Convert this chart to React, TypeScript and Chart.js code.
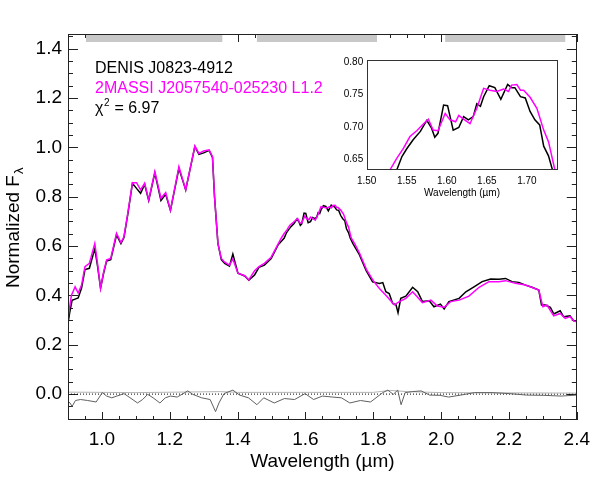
import React, { useEffect, useRef } from "react";
import { Chart, registerables } from "chart.js";
Chart.register(...registerables);

const FONT = "'Liberation Sans', Helvetica, Arial, sans-serif";

// DENIS J0823-4912 (black)
const denisWave = [0.900, 0.905, 0.912, 0.921, 0.930, 0.940, 0.950, 0.963, 0.979, 0.987, 0.996, 1.005, 1.014, 1.026, 1.043, 1.056, 1.065, 1.077, 1.090, 1.102, 1.114, 1.126, 1.138, 1.156, 1.174, 1.188, 1.202, 1.227, 1.247, 1.274, 1.286, 1.300, 1.316, 1.326, 1.332, 1.342, 1.352, 1.362, 1.376, 1.386, 1.401, 1.421, 1.433, 1.450, 1.463, 1.479, 1.499, 1.519, 1.5375, 1.544, 1.550, 1.558, 1.567, 1.575, 1.581, 1.585, 1.589, 1.596, 1.601, 1.608, 1.615, 1.621, 1.627, 1.633, 1.6375, 1.642, 1.646, 1.653, 1.660, 1.6675, 1.676, 1.681, 1.685, 1.692, 1.698, 1.704, 1.710, 1.716, 1.721, 1.727, 1.732, 1.740, 1.759, 1.779, 1.798, 1.818, 1.828, 1.837, 1.847, 1.857, 1.867, 1.873, 1.881, 1.896, 1.916, 1.931, 1.945, 1.965, 1.979, 1.998, 2.009, 2.023, 2.053, 2.073, 2.097, 2.121, 2.146, 2.170, 2.190, 2.209, 2.229, 2.249, 2.268, 2.288, 2.296, 2.307, 2.322, 2.332, 2.351, 2.361, 2.380, 2.391, 2.400];
const denisFlux = [0.287, 0.330, 0.380, 0.385, 0.390, 0.430, 0.505, 0.510, 0.590, 0.520, 0.430, 0.490, 0.540, 0.545, 0.645, 0.610, 0.635, 0.735, 0.855, 0.834, 0.814, 0.850, 0.785, 0.897, 0.785, 0.810, 0.745, 0.915, 0.828, 1.003, 0.972, 0.978, 0.988, 0.960, 0.800, 0.611, 0.545, 0.530, 0.519, 0.568, 0.490, 0.479, 0.462, 0.483, 0.514, 0.523, 0.550, 0.604, 0.633, 0.654, 0.666, 0.680, 0.693, 0.710, 0.698, 0.684, 0.690, 0.734, 0.733, 0.695, 0.699, 0.716, 0.711, 0.716, 0.736, 0.732, 0.747, 0.764, 0.761, 0.743, 0.766, 0.761, 0.761, 0.747, 0.745, 0.724, 0.711, 0.703, 0.670, 0.655, 0.633, 0.610, 0.565, 0.500, 0.455, 0.449, 0.452, 0.415, 0.408, 0.368, 0.362, 0.330, 0.388, 0.397, 0.433, 0.415, 0.375, 0.378, 0.354, 0.365, 0.345, 0.375, 0.388, 0.415, 0.435, 0.456, 0.467, 0.466, 0.469, 0.456, 0.453, 0.442, 0.433, 0.422, 0.361, 0.361, 0.352, 0.325, 0.338, 0.314, 0.317, 0.297, 0.297];

// 2MASSI J2057540-025230 L1.2 template (magenta)
const tmplWave = [0.900, 0.910, 0.921, 0.930, 0.940, 0.950, 0.963, 0.979, 0.987, 0.996, 1.005, 1.014, 1.026, 1.043, 1.056, 1.065, 1.077, 1.090, 1.102, 1.114, 1.126, 1.138, 1.156, 1.174, 1.188, 1.202, 1.227, 1.247, 1.274, 1.286, 1.300, 1.316, 1.326, 1.332, 1.342, 1.352, 1.362, 1.376, 1.386, 1.401, 1.421, 1.433, 1.450, 1.463, 1.479, 1.499, 1.520, 1.529, 1.5375, 1.546, 1.554, 1.5625, 1.571, 1.577, 1.583, 1.589, 1.598, 1.604, 1.611, 1.615, 1.621, 1.629, 1.6375, 1.646, 1.654, 1.6625, 1.671, 1.677, 1.681, 1.6875, 1.692, 1.696, 1.704, 1.7125, 1.721, 1.727, 1.735, 1.745, 1.760, 1.780, 1.800, 1.818, 1.837, 1.862, 1.877, 1.896, 1.916, 1.945, 1.970, 1.989, 2.009, 2.028, 2.053, 2.082, 2.112, 2.141, 2.170, 2.190, 2.219, 2.249, 2.288, 2.300, 2.312, 2.332, 2.351, 2.366, 2.380, 2.391, 2.400];
const tmplFlux = [0.307, 0.400, 0.435, 0.410, 0.442, 0.517, 0.530, 0.611, 0.530, 0.429, 0.495, 0.544, 0.550, 0.652, 0.614, 0.638, 0.740, 0.857, 0.857, 0.828, 0.855, 0.787, 0.902, 0.794, 0.817, 0.746, 0.922, 0.828, 1.006, 0.976, 0.986, 0.990, 0.963, 0.800, 0.611, 0.550, 0.535, 0.523, 0.548, 0.490, 0.480, 0.463, 0.500, 0.517, 0.530, 0.555, 0.610, 0.633, 0.651, 0.667, 0.685, 0.694, 0.705, 0.712, 0.695, 0.694, 0.721, 0.711, 0.708, 0.718, 0.712, 0.705, 0.729, 0.760, 0.757, 0.755, 0.759, 0.755, 0.765, 0.766, 0.757, 0.757, 0.746, 0.729, 0.695, 0.677, 0.633, 0.610, 0.570, 0.505, 0.460, 0.428, 0.401, 0.362, 0.375, 0.388, 0.415, 0.371, 0.381, 0.357, 0.352, 0.375, 0.381, 0.397, 0.433, 0.456, 0.456, 0.460, 0.449, 0.442, 0.422, 0.354, 0.361, 0.317, 0.327, 0.307, 0.314, 0.297, 0.293];

// residual (dark grey)
const residWave = [0.900, 0.906, 0.912, 0.922, 0.937, 0.958, 0.983, 1.001, 1.014, 1.029, 1.044, 1.065, 1.080, 1.105, 1.120, 1.135, 1.151, 1.171, 1.187, 1.202, 1.222, 1.253, 1.268, 1.294, 1.319, 1.335, 1.345, 1.360, 1.386, 1.406, 1.432, 1.457, 1.477, 1.508, 1.538, 1.568, 1.599, 1.624, 1.650, 1.680, 1.706, 1.731, 1.762, 1.792, 1.828, 1.843, 1.859, 1.872, 1.882, 1.894, 1.915, 1.941, 1.966, 1.997, 2.022, 2.058, 2.099, 2.150, 2.201, 2.252, 2.303, 2.354, 2.400];
const residFlux = [-0.030, -0.036, -0.050, -0.026, -0.022, -0.026, -0.032, 0.006, -0.008, -0.015, -0.008, 0.002, -0.012, -0.036, -0.022, -0.001, -0.015, -0.036, -0.015, -0.008, -0.012, 0.013, -0.001, -0.015, -0.022, -0.071, -0.036, 0.002, 0.016, -0.004, -0.015, -0.043, -0.015, -0.036, -0.018, -0.022, 0.002, -0.022, -0.008, -0.012, -0.015, -0.036, -0.026, -0.032, 0.006, 0.016, -0.001, 0.016, -0.043, 0.006, 0.010, 0.013, -0.004, -0.005, -0.012, -0.004, 0.006, 0.006, 0.002, -0.004, -0.005, -0.008, -0.004];

// noise (light grey)
const noiseWave = [0.900, 1.100, 1.350, 1.400, 1.800, 1.850, 1.900, 2.000, 2.400];
const noiseFlux = [0.008, 0.006, 0.010, 0.007, 0.007, 0.015, 0.010, 0.006, 0.004];

// grey telluric bands at top
const bandStart = [0.953, 1.457, 2.012];
const bandEnd = [1.355, 1.811, 2.366];
const bandLevel = 1.444;

const xTicks = [1.0, 1.2, 1.4, 1.6, 1.8, 2.0, 2.2, 2.4];
const yTicks = [0.0, 0.2, 0.4, 0.6, 0.8, 1.0, 1.2, 1.4];
const insetXTicks = [1.5, 1.55, 1.6, 1.65, 1.7];
const insetYTicks = [0.65, 0.7, 0.75, 0.8];

const X_MIN = 0.9, X_MAX = 2.4, Y_MIN = -0.105, Y_MAX = 1.46;
const IX_MIN = 1.5, IX_MAX = 1.738, IY_MIN = 0.633, IY_MAX = 0.804;

const pts = (w: number[], f: number[]) => w.map((x, i) => ({ x, y: f[i] }));

function frameAndTicks(chart: any, phase: string) {
  const { ctx, chartArea: a, scales } = chart;
  const xs = scales.x, ys = scales.y;
  ctx.save();
  ctx.strokeStyle = "#222";
  ctx.lineWidth = 1;
  if (phase === "ticks") {
    ctx.beginPath();
    const xMinor: number[] = [];
    for (let v = 0.9; v <= 2.4001; v += 0.05) xMinor.push(+v.toFixed(2));
    xMinor.forEach((v) => {
      const major = xTicks.some((t) => Math.abs(t - v) < 1e-6);
      const L = major ? 8 : 4;
      const px = Math.round(xs.getPixelForValue(v)) + 0.5;
      ctx.moveTo(px, a.bottom); ctx.lineTo(px, a.bottom - L);
      ctx.moveTo(px, a.top); ctx.lineTo(px, a.top + L);
    });
    const yMinor: number[] = [];
    for (let v = -0.1; v <= 1.4501; v += 0.05) yMinor.push(+v.toFixed(2));
    yMinor.forEach((v) => {
      const major = yTicks.some((t) => Math.abs(t - v) < 1e-6);
      const L = major ? 10 : 5;
      const py = Math.round(ys.getPixelForValue(v)) + 0.5;
      ctx.moveTo(a.left, py); ctx.lineTo(a.left + L, py);
      ctx.moveTo(a.right, py); ctx.lineTo(a.right - L, py);
    });
    ctx.stroke();
  } else {
    ctx.strokeRect(Math.round(a.left) + 0.5, Math.round(a.top) + 0.5, Math.round(a.right - a.left) - 1, Math.round(a.bottom - a.top) - 1);
  }
  ctx.restore();
}

const mainPlugin = {
  id: "mainDecor",
  beforeDatasetsDraw(chart: any) { frameAndTicks(chart, "ticks"); },
  afterDatasetsDraw(chart: any) { frameAndTicks(chart, "frame"); },
  afterDraw(chart: any) {
    const { ctx, chartArea: a } = chart;
    ctx.save();
    ctx.textBaseline = "alphabetic";
    ctx.textAlign = "left";
    // legend text
    ctx.font = `16px ${FONT}`;
    ctx.fillStyle = "#000";
    ctx.fillText("DENIS J0823-4912", 95, 72.5);
    ctx.fillStyle = "#ff00ff";
    ctx.fillText("2MASSI J2057540-025230 L1.2", 95, 92.7);
    ctx.fillStyle = "#000";
    ctx.fillText("χ", 95, 112.7);
    const wChi = ctx.measureText("χ").width;
    ctx.font = `10px ${FONT}`;
    ctx.fillText("2", 95 + wChi + 0.5, 106);
    const w2 = ctx.measureText("2").width;
    ctx.font = `16px ${FONT}`;
    ctx.fillText(" = 6.97", 95 + wChi + w2 + 1, 112.7);
    // x title
    ctx.font = `19px ${FONT}`;
    ctx.textAlign = "center";
    ctx.fillText("Wavelength (µm)", (a.left + a.right) / 2, 467);
    // y title
    ctx.translate(18.5, 288);
    ctx.rotate(-Math.PI / 2);
    ctx.textAlign = "left";
    ctx.fillText("Normalized F", 0, 0);
    const wf = ctx.measureText("Normalized F").width;
    ctx.font = `13px ${FONT}`;
    ctx.fillText("λ", wf + 1, 4);
    ctx.restore();
  },
};

const insetPlugin = {
  id: "insetDecor",
  beforeDatasetsDraw(chart: any) {
    const { ctx, chartArea: a } = chart;
    ctx.save();
    ctx.fillStyle = "#fff";
    ctx.fillRect(a.left, a.top, a.right - a.left, a.bottom - a.top);
    ctx.restore();
  },
  afterDatasetsDraw(chart: any) {
    const { ctx, chartArea: a } = chart;
    ctx.save();
    ctx.strokeStyle = "#333";
    ctx.lineWidth = 1;
    ctx.strokeRect(Math.round(a.left) + 0.5, Math.round(a.top) + 0.5, Math.round(a.right - a.left) - 1, Math.round(a.bottom - a.top) - 1);
    ctx.fillStyle = "#000";
    ctx.font = `10px ${FONT}`;
    ctx.textAlign = "center";
    ctx.textBaseline = "alphabetic";
    ctx.fillText("Wavelength (µm)", (a.left + a.right) / 2, 145.5);
    ctx.restore();
  },
};

export default function App() {
  const mainRef = useRef<HTMLCanvasElement>(null);
  const insetRef = useRef<HTMLCanvasElement>(null);

  useEffect(() => {
    const lineDs = (label: string, data: any[], color: string, width: number, extra: any = {}) => ({
      label, data, borderColor: color, borderWidth: width, pointRadius: 0, tension: 0, fill: false, ...extra,
    });
    const bandSets = bandStart.map((s, i) =>
      lineDs("band" + i, [{ x: s, y: bandLevel }, { x: bandEnd[i], y: bandLevel }], "#c8c8c8", 8, { borderCapStyle: "butt" })
    );
    const main = new Chart(mainRef.current!, {
      type: "line",
      data: {
        datasets: [
          ...bandSets,
          lineDs("template", pts(tmplWave, tmplFlux), "#ff00ff", 1.5),
          lineDs("DENIS", pts(denisWave, denisFlux), "#000000", 1.5),
          lineDs("residual", pts(residWave, residFlux), "#606060", 1),
          lineDs("noise", pts(noiseWave, noiseFlux), "#b4b4b4", 1),
          lineDs("zero", [{ x: X_MIN, y: 0 }, { x: X_MAX, y: 0 }], "#000000", 1, { borderDash: [1, 2] }),
        ],
      },
      options: {
        animation: false,
        responsive: false,
        events: [],
        layout: { padding: 0 },
        plugins: { legend: { display: false }, tooltip: { enabled: false }, title: { display: false } },
        scales: {
          x: {
            type: "linear", position: "bottom", min: X_MIN, max: X_MAX,
            grid: { display: false, drawTicks: false }, border: { display: false },
            afterBuildTicks: (s: any) => { s.ticks = xTicks.map((v) => ({ value: v })); },
            afterFit: (s: any) => { s.height = 69; },
            ticks: { autoSkip: false, maxRotation: 0, padding: 8, color: "#000", font: { family: FONT, size: 19 }, callback: (v: any) => Number(v).toFixed(1) },
          },
          x2: {
            type: "linear", position: "top", min: X_MIN, max: X_MAX,
            grid: { display: false, drawTicks: false }, border: { display: false },
            ticks: { display: false },
            afterFit: (s: any) => { s.height = 34; },
          },
          y: {
            type: "linear", position: "left", min: Y_MIN, max: Y_MAX,
            grid: { display: false, drawTicks: false }, border: { display: false },
            afterBuildTicks: (s: any) => { s.ticks = yTicks.map((v) => ({ value: v })); },
            afterFit: (s: any) => { s.width = 68; },
            ticks: { autoSkip: false, padding: 6, color: "#000", font: { family: FONT, size: 19 }, callback: (v: any) => Number(v).toFixed(1) },
          },
          y2: {
            type: "linear", position: "right", min: Y_MIN, max: Y_MAX,
            grid: { display: false, drawTicks: false }, border: { display: false },
            ticks: { display: false },
            afterFit: (s: any) => { s.width = 20; },
          },
        },
      } as any,
      plugins: [mainPlugin],
    });

    const inset = new Chart(insetRef.current!, {
      type: "line",
      data: {
        datasets: [
          lineDs("template", pts(tmplWave, tmplFlux), "#ff00ff", 1.5),
          lineDs("DENIS", pts(denisWave, denisFlux), "#000000", 1.5),
        ],
      },
      options: {
        animation: false,
        responsive: false,
        events: [],
        layout: { padding: { top: 10, right: 22.7, left: 0, bottom: 0 } },
        plugins: { legend: { display: false }, tooltip: { enabled: false } },
        scales: {
          x: {
            type: "linear", position: "bottom", min: IX_MIN, max: IX_MAX,
            grid: { display: false, drawTicks: false }, border: { display: false },
            afterBuildTicks: (s: any) => { s.ticks = insetXTicks.map((v) => ({ value: v })); },
            afterFit: (s: any) => { s.height = 40; },
            ticks: { autoSkip: false, maxRotation: 0, padding: 5, color: "#000", font: { family: FONT, size: 10 }, callback: (v: any) => Number(v).toFixed(2) },
          },
          y: {
            type: "linear", position: "left", min: IY_MIN, max: IY_MAX,
            grid: { display: false, drawTicks: false }, border: { display: false },
            afterBuildTicks: (s: any) => { s.ticks = insetYTicks.map((v) => ({ value: v })); },
            afterFit: (s: any) => { s.width = 36.7; },
            ticks: { autoSkip: false, padding: 3.5, color: "#000", font: { family: FONT, size: 10 }, callback: (v: any) => Number(v).toFixed(2) },
          },
        },
      } as any,
      plugins: [insetPlugin],
    });

    return () => { main.destroy(); inset.destroy(); };
  }, []);

  return (
    <div style={{ position: "absolute", left: 0, top: 0, width: 598, height: 489, background: "#fff" }}>
      <canvas ref={mainRef} width={598} height={489} style={{ position: "absolute", left: 0, top: 0 }} />
      <canvas ref={insetRef} width={250} height={160} style={{ position: "absolute", left: 330, top: 50 }} />
    </div>
  );
}
